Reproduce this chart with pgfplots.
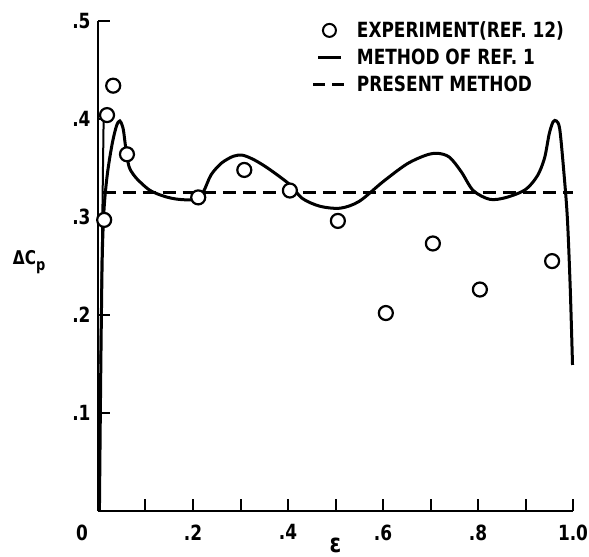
\documentclass[border=0pt]{standalone}
\usepackage{pgfplots}
\pgfplotsset{compat=1.18}
\usepackage{fontspec}
\setmainfont{DejaVu Sans Condensed}[FakeStretch=0.9]
\begin{document}
\begin{tikzpicture}[font=\fontsize{21}{24}\selectfont\bfseries]
\useasboundingbox (-98bp,-46bp) rectangle (491bp,511bp);
\begin{axis}[
  at={(0,0)}, anchor=south west,
  scale only axis, width=475bp, height=490bp,
  xmin=0, xmax=1, ymin=0, ymax=0.5,
  axis x line=bottom, axis y line=left,
  axis line style={line width=2.5bp, -},
  tick align=inside,
  xtick={0,0.2,0.4,0.6,0.8,1},
  xticklabels={{\makebox[0pt][r]{0\hspace{10bp}}},.2,.4,.6,.8,1.0},
  minor xtick={0.1,0.3,0.5,0.7,0.9},
  ytick={0.1,0.2,0.3,0.4,0.5},
  yticklabels={.1,.2,.3,.4,.5},
  major tick length=12bp, minor tick length=12bp,
  every tick/.style={black, line width=2bp},
  xticklabel style={yshift=-10bp},
  yticklabel style={xshift=-4bp},
  xlabel={\fontsize{26}{26}\selectfont ε},
  xlabel style={at={(axis description cs:0.5,0)}, anchor=center, yshift=-34bp, inner sep=0pt},
  ylabel={\fontsize{19}{21}\selectfont ΔC\raisebox{-0.6ex}{\fontsize{16}{16}\selectfont p}},
  ylabel style={rotate=-90, at={(axis description cs:-0.145,0.508)}, anchor=center},
  legend style={draw=none, fill=none, at={(0.45,1.003)}, anchor=north west,
    font=\fontsize{21}{24}\selectfont\bfseries, row sep=6bp, inner sep=0pt,
    /tikz/every odd column/.append style={column sep=9bp}},
  legend cell align=left,
  clip=false,
]
\addlegendimage{legend image code/.code={\draw[line width=2bp, fill=white] (16bp,0) circle (6.5bp);}}
\addlegendentry{EXPERIMENT(REF. 12)}
\addlegendimage{legend image code/.code={\draw[line width=3bp] (5bp,0) -- (28bp,0);}}
\addlegendentry{METHOD OF REF. 1}
\addlegendimage{legend image code/.code={\draw[line width=3bp, dash pattern=on 12bp off 7bp] (0bp,0) -- (31bp,0);}}
\addlegendentry{PRESENT METHOD}

% present method (dashed)
\addplot[forget plot, black, line width=2.5bp, dash pattern=on 13bp off 7bp] coordinates {
(0.01,0.325) (1.0,0.325)};

% method of ref. 1 (solid)
\addplot[forget plot, black, line width=3bp, smooth, tension=0.5] coordinates {
(0.003,0.0) (0.006,0.15) (0.009,0.26) (0.013,0.31) (0.02,0.345) (0.03,0.375)
(0.039,0.393) (0.046,0.398) (0.053,0.39) (0.058,0.372) (0.065,0.352) (0.075,0.343)
(0.088,0.336) (0.11,0.327) (0.14,0.321) (0.17,0.318) (0.205,0.318) (0.222,0.326)
(0.238,0.343) (0.26,0.355) (0.285,0.362) (0.305,0.363) (0.33,0.358) (0.36,0.349)
(0.404,0.333) (0.43,0.319) (0.467,0.311) (0.51,0.309) (0.55,0.316) (0.6,0.336)
(0.65,0.354) (0.69,0.363) (0.715,0.365) (0.74,0.361) (0.765,0.346) (0.79,0.327)
(0.825,0.318) (0.86,0.320) (0.9,0.328) (0.925,0.342) (0.94,0.36) (0.95,0.385)
(0.958,0.397) (0.965,0.398) (0.972,0.39) (0.98,0.35) (0.988,0.30) (0.994,0.23)
(0.999,0.149)};

\addplot[forget plot, black, line width=2bp] coordinates {(0.005,0.15) (0.012,0.405)};

% experiment
\addplot[forget plot, only marks, mark=*, mark size=7bp,
  mark options={fill=white, draw=black, line width=2.2bp}] coordinates {
(0.013,0.297) (0.019,0.404) (0.032,0.434) (0.061,0.364) (0.211,0.320)
(0.308,0.348) (0.404,0.327) (0.505,0.296) (0.606,0.202) (0.705,0.273)
(0.804,0.226) (0.956,0.255)};
\end{axis}
\end{tikzpicture}
\end{document}
